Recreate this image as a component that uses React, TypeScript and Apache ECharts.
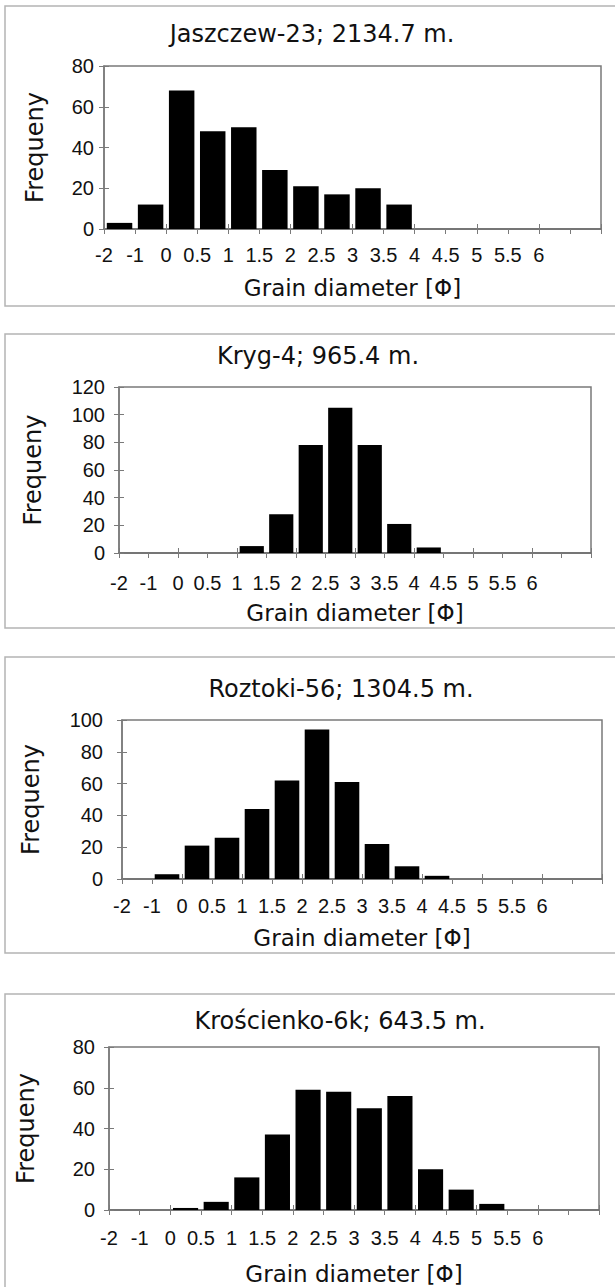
import React, { useEffect, useRef } from "react";
import * as echarts from "echarts";

// ---- Data ----
const TICK_LABELS = ["-2", "-1", "0", "0.5", "1", "1.5", "2", "2.5", "3", "3.5", "4", "4.5", "5", "5.5", "6"];
const BINS = ["-2–-1", "-1–0", "0–0.5", "0.5–1", "1–1.5", "1.5–2", "2–2.5", "2.5–3", "3–3.5", "3.5–4", "4–4.5", "4.5–5", "5–5.5", "5.5–6", "6–6.5", "6.5–7"];
const TITLES = ["Jaszczew-23; 2134.7 m.", "Kryg-4; 965.4 m.", "Roztoki-56; 1304.5 m.", "Krościenko-6k; 643.5 m."];
const JASZCZEW = [3, 12, 68, 48, 50, 29, 21, 17, 20, 12, 0, 0, 0, 0, 0, 0];
const KRYG = [0, 0, 0, 0, 5, 28, 78, 105, 78, 21, 4, 0, 0, 0, 0, 0];
const ROZTOKI = [0, 3, 21, 26, 44, 62, 94, 61, 22, 8, 2, 0, 0, 0, 0, 0];
const KROSCIENKO = [0, 0, 1, 4, 16, 37, 59, 58, 50, 56, 20, 10, 3, 0, 0, 0];
const SERIES = [JASZCZEW, KRYG, ROZTOKI, KROSCIENKO];
const Y_MAX = [80, 120, 100, 80];
const Y_STEP = 20;
const X_NAME = "Grain diameter [Φ]";
const Y_NAME = "Frequeny";

// ---- Layout ----
const LAYOUT = [
  { boxTop: 6, boxH: 300, grid: { left: 104, top: 66, width: 497, height: 163 }, titleX: 312, titleY: 22, yNameGap: 57, xNameGap: 47, xLabelMargin: 16, yLabelMargin: 10 },
  { boxTop: 334, boxH: 294, grid: { left: 119, top: 387, width: 472, height: 166 }, titleX: 318, titleY: 344, yNameGap: 74, xNameGap: 48, xLabelMargin: 20, yLabelMargin: 14 },
  { boxTop: 657, boxH: 296, grid: { left: 122, top: 720, width: 480, height: 159 }, titleX: 341, titleY: 677, yNameGap: 79, xNameGap: 47, xLabelMargin: 17, yLabelMargin: 19 },
  { boxTop: 994, boxH: 400, grid: { left: 109, top: 1047, width: 490, height: 163 }, titleX: 340, titleY: 1009, yNameGap: 71, xNameGap: 52, xLabelMargin: 18, yLabelMargin: 14 },
];

const FONT = "DejaVu Sans";
const TICK_FONT = "Liberation Sans";
const AXIS_GRAY = "#7a7a7a";
const BOX_GRAY = "#b4b4b4";

function buildOption() {
  const title: any[] = [];
  const grid: any[] = [];
  const xAxis: any[] = [];
  const yAxis: any[] = [];
  const series: any[] = [];
  const graphic: any[] = [];

  LAYOUT.forEach((L, i) => {
    graphic.push({
      type: "rect",
      shape: { x: 5, y: L.boxTop, width: 640, height: L.boxH },
      style: { fill: "none", stroke: BOX_GRAY, lineWidth: 1.5 },
      silent: true,
      z: -10,
    });
    title.push({
      text: TITLES[i],
      left: L.titleX,
      top: L.titleY,
      textAlign: "center",
      padding: 0,
      textStyle: { fontFamily: FONT, fontSize: 24, fontWeight: "normal", color: "#111" },
    });
    grid.push({
      ...L.grid,
      show: true,
      borderColor: AXIS_GRAY,
      borderWidth: 1.5,
      backgroundColor: "transparent",
      containLabel: false,
    });
    // category axis for bars (ticks inside)
    xAxis.push({
      type: "category",
      gridIndex: i,
      data: BINS,
      boundaryGap: true,
      axisLine: { show: true, lineStyle: { color: "#6a6a6a", width: 1.5 } },
      axisTick: { show: true, inside: true, length: 5, lineStyle: { color: AXIS_GRAY } },
      axisLabel: { show: false },
      splitLine: { show: false },
    });
    // value axis for boundary labels (ticks outside)
    xAxis.push({
      type: "value",
      gridIndex: i,
      min: 0,
      max: BINS.length,
      interval: 1,
      position: "bottom",
      axisLine: { show: false },
      axisTick: { show: true, length: 5, lineStyle: { color: AXIS_GRAY } },
      axisLabel: {
        show: true,
        margin: L.xLabelMargin,
        fontFamily: TICK_FONT,
        fontSize: 20,
        color: "#111",
        showMinLabel: true,
        showMaxLabel: true,
        formatter: (v: number) => TICK_LABELS[Math.round(v)] ?? "",
      },
      splitLine: { show: false },
      name: X_NAME,
      nameLocation: "middle",
      nameGap: L.xNameGap,
      nameTextStyle: { fontFamily: FONT, fontSize: 23, color: "#111" },
    });
    yAxis.push({
      type: "value",
      gridIndex: i,
      min: 0,
      max: Y_MAX[i],
      interval: Y_STEP,
      axisLine: { show: true, lineStyle: { color: AXIS_GRAY, width: 1.5 } },
      axisTick: { show: true, length: 5, lineStyle: { color: AXIS_GRAY } },
      axisLabel: { margin: L.yLabelMargin, fontFamily: TICK_FONT, fontSize: 20, color: "#111" },
      splitLine: { show: false },
      name: Y_NAME,
      nameLocation: "middle",
      nameRotate: 90,
      nameGap: L.yNameGap,
      nameTextStyle: { fontFamily: FONT, fontSize: 24, color: "#111" },
    });
    yAxis.push({
      type: "value",
      gridIndex: i,
      position: "left",
      min: 0,
      max: Y_MAX[i],
      interval: Y_STEP,
      axisLine: { show: false },
      axisTick: { show: true, inside: true, length: 5, lineStyle: { color: AXIS_GRAY } },
      axisLabel: { show: false },
      splitLine: { show: false },
    });
    series.push({
      type: "bar",
      name: TITLES[i],
      xAxisIndex: 2 * i,
      yAxisIndex: 2 * i,
      data: SERIES[i],
      barCategoryGap: "18%",
      itemStyle: { color: "#000" },
      silent: true,
    });
  });

  return { animation: false, backgroundColor: "#fff", title, grid, xAxis, yAxis, series, graphic };
}

export default function App() {
  const ref = useRef<HTMLDivElement>(null);
  useEffect(() => {
    if (!ref.current) return;
    const chart = echarts.init(ref.current, undefined, { renderer: "svg" });
    chart.setOption(buildOption() as any);
    return () => chart.dispose();
  }, []);
  return (
    <div
      ref={ref}
      style={{ position: "absolute", left: 0, top: 0, width: 615, height: 1287, background: "#fff" }}
    />
  );
}
